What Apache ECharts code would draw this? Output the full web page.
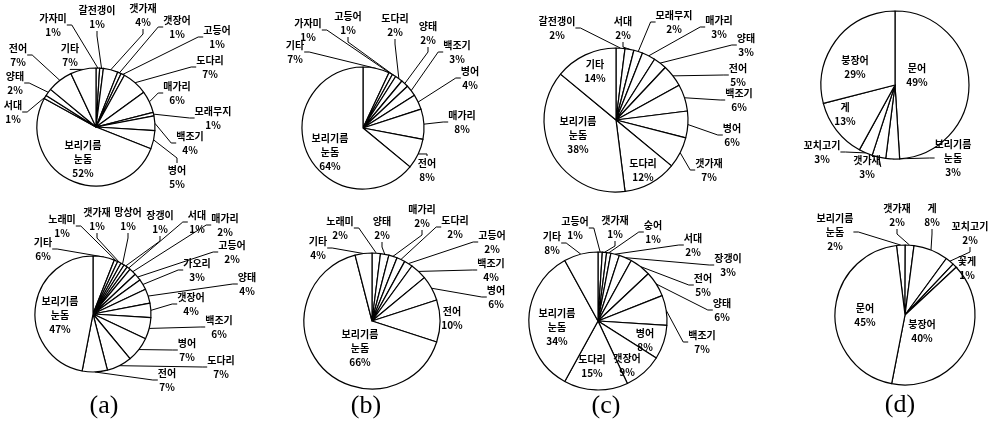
<!DOCTYPE html>
<html>
<head>
    <meta charset="utf-8">
    <title>어종 조성</title>
    <script src="https://cdn.jsdelivr.net/npm/echarts@6/dist/echarts.min.js"></script>
    <style>
        html, body { margin: 0; padding: 0; background: #fff; }
        #main { width: 992px; height: 428px; }
    </style>
</head>
<body>
<div id="main"></div>
<script type="text/javascript">
// 위쪽 (a)~(d)
var a1Names = ['가자미', '갈전갱이', '갯가재', '갯장어', '고등어', '도다리', '매가리', '모래무지', '백조기', '병어', '보리기름눈돔', '서대', '양태', '전어', '기타'];
var a1Values = [1, 1, 4, 1, 1, 7, 6, 1, 4, 5, 52, 1, 2, 7, 7];

var b1Names = ['기타', '가자미', '고등어', '도다리', '양태', '백조기', '병어', '매가리', '전어', '보리기름눈돔'];
var b1Values = [7, 1, 1, 2, 2, 3, 4, 8, 8, 64];

var c1Names = ['갈전갱이', '서대', '모래무지', '매가리', '양태', '전어', '백조기', '병어', '갯가재', '도다리', '보리기름눈돔', '기타'];
var c1Values = [2, 2, 2, 3, 3, 5, 6, 6, 7, 12, 38, 14];

var d1Names = ['문어', '보리기름눈돔', '갯가재', '꼬치고기', '게', '붕장어'];
var d1Values = [49, 3, 3, 3, 13, 29];

// 아래쪽 (a)~(d)
var a2Names = ['기타', '노래미', '갯가재', '망상어', '장갱이', '서대', '매가리', '고등어', '가오리', '양태', '갯장어', '백조기', '병어', '도다리', '전어', '보리기름눈돔'];
var a2Values = [6, 1, 1, 1, 1, 1, 2, 2, 3, 4, 4, 6, 7, 7, 7, 47];

var b2Names = ['노래미', '양태', '매가리', '도다리', '고등어', '백조기', '병어', '전어', '보리기름눈돔', '기타'];
var b2Values = [2, 2, 2, 2, 2, 4, 6, 10, 66, 4];

var c2Names = ['고등어', '갯가재', '숭어', '서대', '장갱이', '전어', '양태', '백조기', '병어', '갯장어', '도다리', '보리기름눈돔', '기타'];
var c2Values = [1, 1, 1, 2, 3, 5, 6, 7, 8, 9, 15, 34, 8];

var d2Names = ['보리기름눈돔', '갯가재', '게', '꼬치고기', '꽃게', '붕장어', '문어'];
var d2Values = [2, 2, 8, 2, 1, 40, 45];

var panelTags = ['(a)', '(b)', '(c)', '(d)'];

// 배치 (원 중심, 반지름, 라벨 위치)
var pies = [
    { names: a1Names, values: a1Values, center: [96, 127], r: 59, start: 90,
      inside: ['보리기름눈돔'],
      pos: [[53,25],[97,17],[143,15],[177,27],[217,37],[210,67],[177,93],[213,118],[190,143],[177,177],[83,159],[13,112],[15,83],[18,55],[70,55]] },
    { names: b1Names, values: b1Values, center: [363, 128], r: 61, start: 90,
      inside: ['보리기름눈돔'],
      pos: [[295,52],[308,30],[348,23],[395,25],[428,33],[457,52],[470,78],[462,122],[427,170],[330,152]] },
    { names: c1Names, values: c1Values, center: [616, 120], r: 72, start: 90,
      inside: ['도다리', '보리기름눈돔', '기타'],
      pos: [[557,28],[623,28],[674,22],[719,27],[746,45],[738,75],[739,100],[732,135],[709,170],[643,170],[578,135],[595,71]] },
    { names: d1Names, values: d1Values, center: [895, 85], r: 74, start: 90,
      inside: ['문어', '게', '붕장어'],
      pos: [[917,75],[953,158],[867,167],[822,152],[845,114],[855,67]] },
    { names: a2Names, values: a2Values, center: [93, 314], r: 58, start: 90,
      inside: ['보리기름눈돔'],
      pos: [[43,249],[62,226],[97,219],[128,219],[160,222],[197,222],[225,225],[232,252],[197,270],[247,284],[191,304],[219,327],[187,350],[221,367],[167,380],[60,315]] },
    { names: b2Names, values: b2Values, center: [372, 321], r: 68, start: 90,
      inside: ['보리기름눈돔'], noLine: ['전어'],
      pos: [[340,228],[382,228],[422,216],[455,227],[492,242],[491,270],[496,297],[452,318],[360,348],[318,248]] },
    { names: c2Names, values: c2Values, center: [598, 321], r: 69, start: 90,
      inside: ['병어', '갯장어', '도다리', '보리기름눈돔'],
      pos: [[575,228],[615,227],[653,232],[693,245],[728,265],[703,285],[722,310],[702,342],[645,340],[627,365],[592,366],[557,327],[552,243]] },
    { names: d2Names, values: d2Values, center: [905, 315], r: 70, start: 97,
      inside: ['붕장어', '문어'],
      pos: [[835,232],[897,215],[932,215],[970,233],[967,268],[922,331],[865,315]] }
];
var tagPos = [[104, 406], [366, 406], [606, 406], [900, 405]];

var myChart = echarts.init(document.getElementById('main'));

function fmt(p) {
    var n = p.name === '보리기름눈돔' ? '보리기름\n눈돔' : p.name;
    return n + '\n' + p.value + '%';
}

var series = pies.map(function (pie) {
    var data = pie.names.map(function (n, i) {
        var item = { name: n, value: pie.values[i] };
        if (pie.inside.indexOf(n) >= 0) {
            item.label = { position: 'inside' };
            item.labelLine = { show: false };
        }
        if (pie.noLine && pie.noLine.indexOf(n) >= 0) {
            item.labelLine = { show: false };
        }
        return item;
    });
    return {
        type: 'pie',
        center: pie.center,
        radius: pie.r,
        startAngle: pie.start,
        clockwise: true,
        avoidLabelOverlap: false,
        animation: false,
        silent: true,
        itemStyle: { color: '#fff', borderColor: '#000', borderWidth: 1.2 },
        label: {
            show: true, position: 'outside', formatter: fmt,
            color: '#000', fontSize: 10, lineHeight: 14, fontWeight: 'bold',
            fontFamily: '"Noto Sans CJK KR", sans-serif', align: 'center'
        },
        labelLine: { show: true, length: 8, length2: 5, lineStyle: { color: '#000', width: 1 } },
        labelLayout: function (params) {
            var p = pie.pos[params.dataIndex];
            return { x: p[0], y: p[1], align: 'center', verticalAlign: 'middle' };
        },
        data: data
    };
});

var graphics = panelTags.map(function (t, i) {
    return {
        type: 'text', x: tagPos[i][0], y: tagPos[i][1],
        style: { text: t, fill: '#000', font: '26px "Liberation Serif"', textAlign: 'center', textVerticalAlign: 'middle' }
    };
});

var option = {
    backgroundColor: '#fff',
    animation: false,
    graphic: graphics,
    series: series
};
myChart.setOption(option);
</script>
</body>
</html>
